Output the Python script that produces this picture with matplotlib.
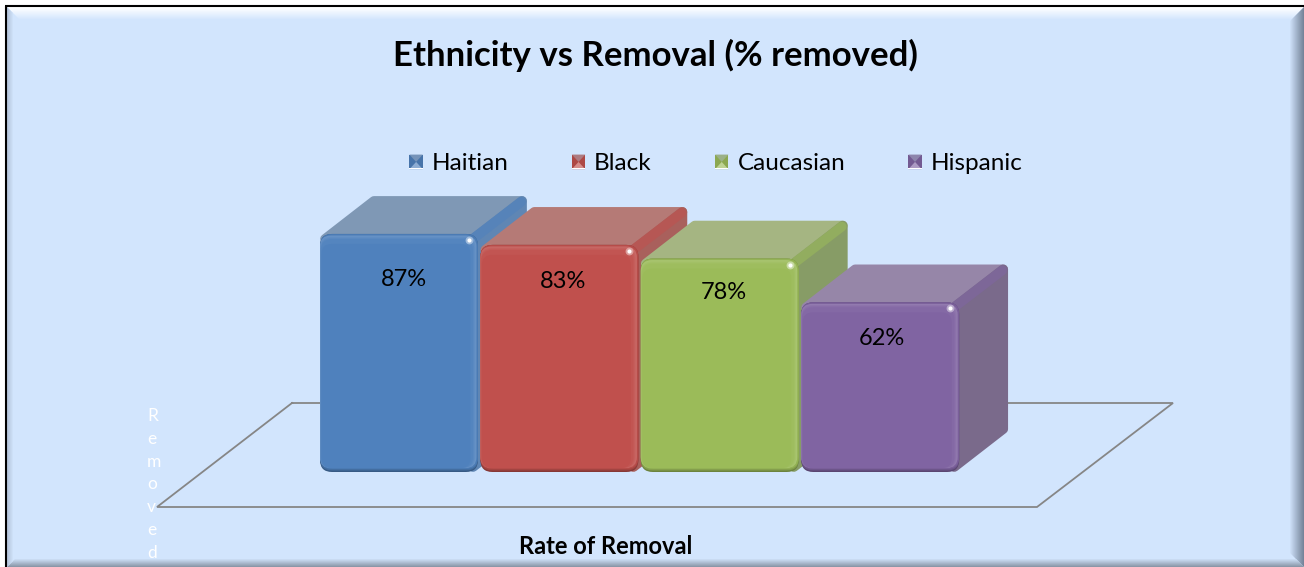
import numpy as np
import matplotlib
matplotlib.use("Agg")
import matplotlib.pyplot as plt
from matplotlib.patches import FancyBboxPatch, Polygon, Patch, Rectangle
from matplotlib.legend_handler import HandlerBase
from matplotlib.colors import to_rgb

plt.rcParams['font.family'] = ['Lato', 'DejaVu Sans']

# data
ethnicity = ['Haitian', 'Black', 'Caucasian', 'Hispanic']
removed_pct = [87, 83, 78, 62]

front_col = ['#4F81BD', '#C0504D', '#9BBB59', '#8064A2']
top_col = ['#7F98B5', '#B57A76', '#A5B582', '#9686A8']
side_col = ['#5F86B4', '#A9605C', '#879C66', '#7A6A8B']

W, H = 1304, 567
BG = '#D2E5FD'

# px layout of the value scale
x0_px, bar_px = 320.0, 160.4
y0_px, pct_px = 472.0, 2.736


def mix(c1, c2, t):
    a, b = np.array(to_rgb(c1)), np.array(to_rgb(c2))
    return tuple(a + (b - a) * t)


fig = plt.figure(figsize=(W / 100, H / 100), dpi=100, facecolor='white')

# frame + bevel in pixel coords
bk = fig.add_axes([0, 0, 1, 1])
bk.set_xlim(0, W)
bk.set_ylim(H, 0)
bk.axis('off')
L, T, R, B = 7, 7, W, H
bk.add_patch(Rectangle((L, T), R - L, B - T, fc=BG, ec='none'))
for i in range(12):
    t = i / 12
    bk.add_patch(Polygon([(L + i, T + i), (R - i, T + i), (R - i - 1, T + i + 1), (L + i + 1, T + i + 1)],
                         fc=mix('#FFFFFF', BG, t), ec='none'))
for i in range(14):
    t = i / 14
    bk.add_patch(Polygon([(R - i, T + i), (R - i, B - i), (R - i - 1, B - i - 1), (R - i - 1, T + i + 1)],
                         fc=mix('#75849A', BG, t), ec='none'))
for i in range(8):
    t = i / 8
    bk.add_patch(Polygon([(L + i, B - i), (R - i, B - i), (R - i - 1, B - i - 1), (L + i + 1, B - i - 1)],
                         fc=mix('#8A97A8', BG, t), ec='none'))
for i in range(6):
    t = i / 6
    bk.add_patch(Polygon([(L + i, T + i), (L + i, B - i), (L + i + 1, B - i - 1), (L + i + 1, T + i + 1)],
                         fc=mix('#B4C4DA', BG, t), ec='none'))
bk.plot([6, 6], [5.5, H], color='black', lw=1.5, solid_capstyle='butt')
bk.plot([5, W], [6, 6], color='black', lw=1.5, solid_capstyle='butt')

# value axes, bar i sits on [i, i+1]
ax = fig.add_axes([0, 0, 1, 1])
ax.patch.set_alpha(0)
ax.axis('off')
ax.set_xlim(-x0_px / bar_px, (W - x0_px) / bar_px)
ax.set_ylim((y0_px - H) / pct_px, y0_px / pct_px)
asp = bar_px / pct_px


def dx(px):
    return px / bar_px


def dy(px):
    return px / pct_px


# floor
ax.plot([dx(292 - x0_px), dx(1173 - x0_px), dx(1037 - x0_px), dx(157 - x0_px), dx(292 - x0_px)],
        [dy(y0_px - 403), dy(y0_px - 403), dy(y0_px - 507), dy(y0_px - 507), dy(y0_px - 403)],
        color='#868686', lw=1.3, solid_joinstyle='miter')

depth_x, depth_y = dx(49), dy(38)
bw = 0.985


def round_box(x, y, w, h, r_px, color, z):
    p = FancyBboxPatch((x, y), w, h, boxstyle="round,pad=0,rounding_size=%f" % dx(r_px),
                       mutation_aspect=asp, fc=color, ec='none', zorder=z)
    ax.add_patch(p)


label_drop = [46, 37, 34, 36]
label_shift = [4.5, 4, 4, 2]
for i, v in enumerate(removed_pct):
    z = 3 + i
    x1 = i + bw
    c = front_col[i]
    # top and side, rounded by a fat round-joined edge
    ins_x, ins_y = dx(5), dy(5)
    ax.add_patch(Polygon([(i + ins_x, v - ins_y), (x1, v - ins_y),
                          (x1 + depth_x - ins_x, v + depth_y - ins_y), (i + depth_x + ins_x, v + depth_y - ins_y)],
                         fc=top_col[i], ec=top_col[i], lw=7, joinstyle='round', zorder=z))
    ax.add_patch(Polygon([(x1 - ins_x, v - ins_y), (x1 + depth_x - ins_x, v + depth_y - ins_y),
                          (x1 + depth_x - ins_x, depth_y + ins_y), (x1 - ins_x, ins_y)],
                         fc=side_col[i], ec=side_col[i], lw=7, joinstyle='round', zorder=z))
    # band where top meets side
    ax.plot([x1 - dx(4), x1 + depth_x - dx(6)], [v - dy(4), v + depth_y - dy(6)],
            color=mix(c, side_col[i], 0.45), lw=7, solid_capstyle='round', zorder=z)
    # front face, darker along the foot
    round_box(i, 0, bw, v, 12, mix(c, '#000000', 0.30), z)
    round_box(i, dy(1.5), bw, v - dy(1.5), 12, mix(c, '#000000', 0.15), z)
    round_box(i, dy(3), bw, v - dy(3), 12, mix(c, '#000000', 0.05), z)
    # lighter band along top and right, fading into the face
    for k, t in enumerate([0.14, 0.10, 0.06, 0.03]):
        round_box(i + dx(0.3 * k), dy(4), bw - dx(1.5 + 1.5 * k), v - dy(5.5 + 1.2 * k), 11,
                  mix(c, '#FFFFFF', t), z)
    round_box(i + dx(1.5), dy(4), bw - dx(9), v - dy(14), 10, c, z)
    ax.scatter([x1 - dx(9)], [v - dy(6)], s=32, color=mix(c, '#FFFFFF', 0.45), lw=0, zorder=z)
    ax.scatter([x1 - dx(9)], [v - dy(6)], s=9, color='white', lw=0, zorder=z)
    ax.text(i + bw / 2 + dx(label_shift[i]), v - dy(label_drop[i]), '%d%%' % v, ha='center', va='center',
            fontsize=17, color='black', zorder=20)


class BevelHandler(HandlerBase):
    def create_artists(self, legend, orig, xd, yd, width, height, fontsize, trans):
        c = orig.get_facecolor()
        x, y, w, h = -xd, -yd, width, height
        cx, cy = x + w / 2, y + h / 2
        parts = [
            ([(x, y), (x + w, y), (x + w, y + h), (x, y + h)], mix(c, '#000000', 0.1)),
            ([(x, y + h), (x + w, y + h), (cx, cy)], mix(c, '#9AA5B5', 0.5)),
            ([(x, y), (x + w, y), (cx, cy)], mix(c, '#FFFFFF', 0.35)),
            ([(x, y), (x + w, y), (x + w, y + 1.2), (x, y + 1.2)], '#FFFFFF'),
        ]
        return [Polygon(pts, fc=col, ec='none', transform=trans) for pts, col in parts]


handles = [Patch(facecolor=c, label=n) for c, n in zip(front_col, ethnicity)]
leg = ax.legend(handles=handles, ncol=4, loc='center', bbox_to_anchor=(716 / W, 1 - 164 / H),
                frameon=False, fontsize=17.5, handlelength=0.55, handleheight=0.55, handletextpad=0.37,
                columnspacing=2.6, borderpad=0, labelcolor='black',
                handler_map={Patch: BevelHandler()})

fig.text(655.5 / W, 1 - 55 / H, 'Ethnicity vs Removal (% removed)', ha='center', va='center',
         fontsize=25, fontweight='bold', color='black')
fig.text(606 / W, 1 - 547 / H, 'Rate of Removal', ha='center', va='center',
         fontsize=17, fontweight='bold', color='black')
# vertical stacked axis title, white on the pale fill
for ch, k in zip('Removed', range(7)):
    fig.text(147 / W, 1 - (416 + 22.8 * k) / H, ch, ha='left', va='center', fontsize=12.5, color='white')

fig.savefig('out.png', dpi=100, facecolor=fig.get_facecolor())
